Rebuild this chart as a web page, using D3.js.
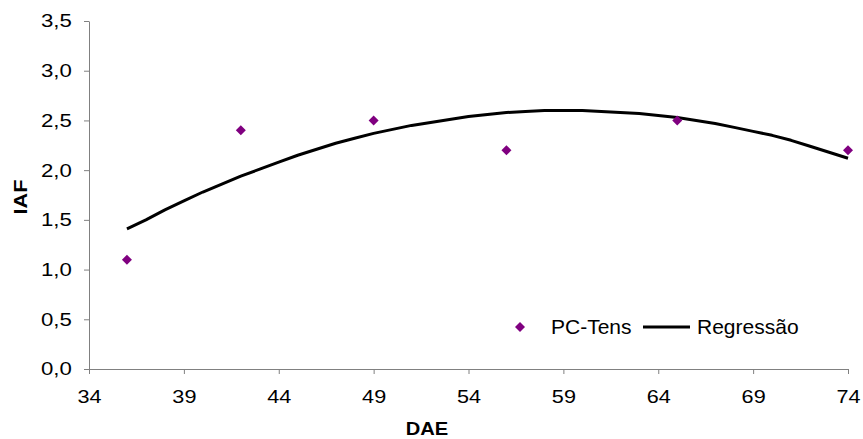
<!DOCTYPE html>
<html><head><meta charset="utf-8">
<script src="https://cdn.jsdelivr.net/npm/d3@7"></script>
<style>body{margin:0;background:#fff}svg{display:block}text{font-family:"Liberation Sans",Arial,sans-serif}</style>
</head><body><svg id="c" width="863" height="439"></svg>
<script>
const xTicks = [34,39,44,49,54,59,64,69,74];
const yTicks = [0,0.5,1.0,1.5,2.0,2.5,3.0,3.5];
const obsX = [36,42,49,56,65,74];
const obsY = [1.1,2.4,2.5,2.2,2.5,2.2];
const regX = [36,37,38,39,40,41,42,43,44,45,46,47,48,49,50,51,52,53,54,55,56,57,58,59,60,61,62,63,64,65,66,67,68,69,70,71,72,73,74];
const regY = [1.41,1.50,1.60,1.69,1.78,1.86,1.94,2.01,2.08,2.15,2.21,2.27,2.32,2.37,2.41,2.45,2.48,2.51,2.54,2.56,2.58,2.59,2.60,2.60,2.60,2.59,2.58,2.57,2.55,2.53,2.50,2.47,2.43,2.39,2.35,2.30,2.24,2.18,2.12];
const seriesNames = ["PC-Tens","Regressão"];

const svg = d3.select("#c");
const x = d3.scaleLinear().domain([34,74]).range([89,848]);
const y = d3.scaleLinear().domain([0,3.5]).range([369,21]);
const fmt = v => d3.format(".1f")(v).replace(".", ",");

const xAxis = svg.append("g").attr("transform","translate(0,369)")
  .call(d3.axisBottom(x).tickValues(xTicks).tickSize(5).tickSizeOuter(0).tickPadding(16));
const yAxis = svg.append("g").attr("transform","translate(89,0)")
  .call(d3.axisLeft(y).tickValues(yTicks).tickFormat(fmt).tickSize(5).tickSizeOuter(0).tickPadding(9.4));
[xAxis,yAxis].forEach(a=>{
  a.select(".domain").attr("stroke","#808080").attr("stroke-width",1);
  a.selectAll(".tick line").attr("stroke","#808080");
  a.selectAll(".tick text").attr("fill","#000").style("font-size","18.5px")
    .style("font-family","'Liberation Sans',Arial,sans-serif");
});
xAxis.selectAll(".tick text").attr("transform","scale(1.17,1)");
yAxis.selectAll(".tick text").each(function(){
  const t=d3.select(this); const yy=+t.attr("y")||0;
  t.attr("transform","scale(1.2,1)");
});

// regression line
svg.append("path").datum(regX.map((d,i)=>[d,regY[i]]))
  .attr("fill","none").attr("stroke","#000").attr("stroke-width",3)
  .attr("stroke-linejoin","round")
  .attr("d", d3.line().x(d=>x(d[0])).y(d=>y(d[1])));

function diamond(cx,cy,r){return `M${cx},${cy-r}L${cx+r},${cy}L${cx},${cy+r}L${cx-r},${cy}Z`;}
svg.append("g").selectAll("path").data(obsX.map((d,i)=>[d,obsY[i]])).join("path")
  .attr("fill","#800080").attr("d", d=>diamond(x(d[0]),y(d[1]),5));

// axis titles
svg.append("text").attr("transform","translate(427,435) scale(1.12,1)").attr("text-anchor","middle")
  .style("font-size","18px").style("font-weight","bold").text("DAE");
svg.append("text").attr("transform","translate(27,197) rotate(-90) scale(1.2,1)").attr("text-anchor","middle")
  .style("font-size","18px").style("font-weight","bold").text("IAF");

// legend
const lg = svg.append("g");
lg.append("path").attr("fill","#800080").attr("d", diamond(520,327,5));
lg.append("text").attr("x",551).attr("y",334).style("font-size","21px").text(seriesNames[0]);
lg.append("line").attr("x1",643).attr("x2",690).attr("y1",327).attr("y2",327).attr("stroke","#000").attr("stroke-width",3);
lg.append("text").attr("x",697).attr("y",334).style("font-size","21px").text(seriesNames[1]);
</script></body></html>
